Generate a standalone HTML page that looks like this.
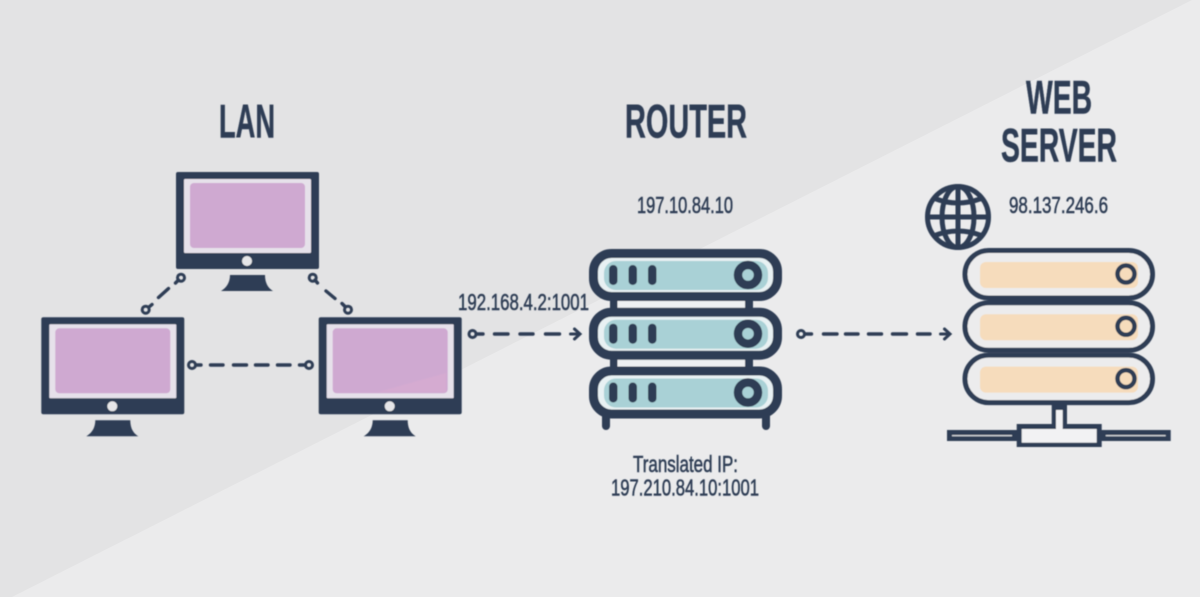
<!DOCTYPE html>
<html>
<head>
<meta charset="utf-8">
<style>
html,body{margin:0;padding:0;background:#ebebec;}
svg{display:block;}
text{font-family:"Liberation Sans",sans-serif;fill:#2f3e55;}
.t{font-size:47px;font-weight:bold;stroke:#2f3e55;stroke-width:.5px;}
.s{font-size:23px;stroke:#2f3e55;stroke-width:.55px;}
</style>
</head>
<body>
<svg width="1200" height="597" viewBox="0 0 1200 597" xmlns="http://www.w3.org/2000/svg">
<defs>
<filter id="soft" x="-2%" y="-2%" width="104%" height="104%"><feGaussianBlur stdDeviation="0.45"/></filter>
<g id="mon">
<rect x="176" y="172" width="143" height="97" rx="2" fill="#2f3e55"/>
<rect x="184" y="179" width="127" height="74" rx="1" fill="#e6e1ea"/>
<rect x="190" y="183" width="115" height="65" rx="4" fill="#cfa9d1"/>
<circle cx="247" cy="261" r="5" fill="#e6e6e8"/>
<path d="M230 275H265C265 283 268 288 273 291H221C226 288 230 283 230 275Z" fill="#2f3e55"/>
</g>
<g id="ru">
<rect x="593.5" y="253.5" width="184" height="43" rx="18" fill="#e8f1f3" stroke="#2f3e55" stroke-width="9"/>
<rect x="604" y="261" width="164" height="29" rx="12" fill="#a9d1d6"/>
<rect x="609" y="265" width="8.5" height="20" rx="4.2" fill="#2f3e55"/>
<rect x="628.5" y="265" width="8.5" height="20" rx="4.2" fill="#2f3e55"/>
<rect x="648" y="265" width="8.5" height="20" rx="4.2" fill="#2f3e55"/>
<circle cx="748" cy="275" r="10" fill="#a9d1d6" stroke="#2f3e55" stroke-width="8.5"/>
</g>
<g id="su">
<rect x="965" y="250.5" width="187.500" height="47.5" rx="23.7" fill="#ececed" stroke="#2f3e55" stroke-width="5"/>
<rect x="980" y="262" width="158" height="26" rx="6" fill="#f6dcbc"/>
<circle cx="1126" cy="274" r="8.500" fill="#f6dcbc" stroke="#2f3e55" stroke-width="4.500"/>
</g>
</defs>

<rect width="1200" height="597" fill="#ebebec"/>
<polygon points="0,0 1192,0 12,597 0,597" fill="#e3e3e4"/>

<g filter="url(#soft)">
<!-- monitors -->
<use href="#mon"/>
<use href="#mon" transform="translate(-134.7,145.3)"/>
<use href="#mon" transform="translate(142.7,145.3)"/>
<polygon points="446,373 446,392 378,392" fill="#e0b0d2" opacity=".35"/>

<!-- connectors -->
<g fill="none" stroke="#2f3e55" stroke-width="3.4" stroke-linecap="round">
<path d="M149 307L152 304.500M158.500 297.500L168.500 288.500M175.500 283L178.500 280"/>
<path d="M315 280L317.500 283M326 291L335 298.500M342 303.500L345 306.500"/>
<path d="M196.500 365H201M210.500 365H223M233.500 365H246.500M255.500 365H268M277.500 365H290M299.500 365H305"/>
<path d="M477 334H483M494.500 334H508M520 334H533M545.500 334H559.500"/>
<path d="M805 334H811.500M823.500 334H837M845.500 334H858M868.500 334H881.500M892.500 334H906.500M917.500 334H930"/>
<g stroke-width="3">
<circle cx="145.700" cy="309.700" r="3.500"/>
<circle cx="181" cy="277.700" r="3.500"/>
<circle cx="312.700" cy="277.700" r="3.500"/>
<circle cx="348" cy="309.700" r="3.500"/>
<circle cx="192" cy="365" r="3.500"/>
<circle cx="309" cy="365" r="3.500"/>
<circle cx="472.500" cy="334" r="3.500"/>
<circle cx="801" cy="334" r="3.500"/>
<path d="M574.500 329L580 334L574.500 339M570.500 334H579"/>
<path d="M944.500 329L950 334L944.500 339M940.500 334H949"/>
</g>
</g>

<!-- router -->
<rect x="610" y="298" width="7.500" height="12" fill="#2f3e55"/>
<rect x="745" y="298" width="8" height="12" fill="#2f3e55"/>
<rect x="610" y="357" width="7.500" height="12" fill="#2f3e55"/>
<rect x="745" y="357" width="8" height="12" fill="#2f3e55"/>
<rect x="617.500" y="300" width="127.500" height="8" fill="#eef0f2"/>
<rect x="617.500" y="359" width="127.500" height="8" fill="#eef0f2"/>
<rect x="602" y="412" width="8" height="18" rx="4" fill="#2f3e55"/>
<rect x="762" y="412" width="8" height="18" rx="4" fill="#2f3e55"/>
<use href="#ru"/>
<use href="#ru" transform="translate(0,58.700)"/>
<use href="#ru" transform="translate(0,117.500)"/>

<!-- server -->
<use href="#su"/>
<use href="#su" transform="translate(0,52.300)"/>
<use href="#su" transform="translate(0,104.600)"/>
<rect x="1051.700" y="405" width="15.300" height="22" fill="#2f3e55"/>
<rect x="947" y="430" width="223.700" height="11" fill="#2f3e55"/>
<rect x="952" y="435" width="60" height="1.300" fill="#d5d8dc"/>
<rect x="1105.700" y="435" width="60" height="1.300" fill="#d5d8dc"/>
<rect x="1016.700" y="424" width="85" height="23" fill="#2f3e55"/>
<rect x="1021.700" y="429" width="75" height="13.700" fill="#f2f2f3"/>
<rect x="1056" y="410" width="6.700" height="20" fill="#f2f2f3"/>

<!-- globe -->
<g fill="none" stroke="#2f3e55" stroke-width="5">
<circle cx="958" cy="217" r="30.500"/>
<ellipse cx="958" cy="217" rx="16" ry="30.500"/>
<line x1="958" y1="186" x2="958" y2="248"/>
<line x1="927" y1="217" x2="989" y2="217"/>
<path d="M933.500 198Q958 208 982.500 198"/>
<path d="M933.500 236Q958 226 982.500 236"/>
</g>

<!-- text -->
<text class="t" x="219" y="137.500" textLength="56" lengthAdjust="spacingAndGlyphs">LAN</text>
<text class="t" x="625" y="137.500" textLength="122" lengthAdjust="spacingAndGlyphs">ROUTER</text>
<text class="t" x="1026" y="113.500" textLength="66" lengthAdjust="spacingAndGlyphs">WEB</text>
<text class="t" x="1001" y="161.500" textLength="116" lengthAdjust="spacingAndGlyphs">SERVER</text>
<text class="s" x="637" y="213" textLength="96" lengthAdjust="spacingAndGlyphs">197.10.84.10</text>
<text class="s" x="1009" y="213" textLength="99" lengthAdjust="spacingAndGlyphs">98.137.246.6</text>
<text class="s" x="458" y="310" textLength="131" lengthAdjust="spacingAndGlyphs">192.168.4.2:1001</text>
<text class="s" x="633" y="472" textLength="105" lengthAdjust="spacingAndGlyphs">Translated IP:</text>
<text class="s" x="611" y="495.500" textLength="148" lengthAdjust="spacingAndGlyphs">197.210.84.10:1001</text>
</g>
</svg>
</body>
</html>
